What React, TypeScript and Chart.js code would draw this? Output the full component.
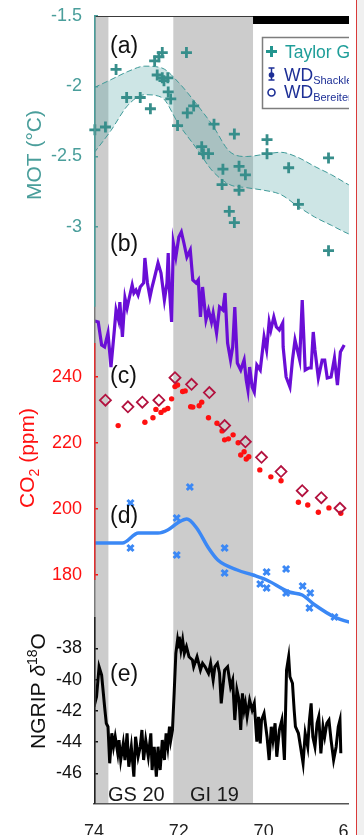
import React, { useEffect, useRef } from 'react';
import { Chart, registerables } from 'chart.js';

Chart.register(...registerables);

// ---------------- Data ----------------
const xTickValues = [74, 72, 70, 68];
const motTickValues = [-1.5, -2, -2.5, -3];
const co2TickValues = [240, 220, 200, 180];
const ngripTickValues = [-38, -40, -42, -44, -46];

// (a) MOT, Taylor Glacier (ka, °C)
const motAges = [73.98, 73.73, 73.48, 73.23, 72.91, 72.67, 72.57, 72.47, 72.39, 72.51, 72.39, 72.26, 72.35, 72.25, 72.19, 72.03, 71.82, 71.8, 71.65, 71.17, 70.69, 71.46, 71.42, 71.3, 70.96, 70.58, 70.43, 70.98, 70.58, 70.81, 70.69, 69.92, 69.92, 69.41, 68.47, 69.18, 68.47];
const motValues = [-2.31, -2.29, -1.88, -2.08, -2.08, -2.16, -1.82, -1.79, -1.76, -1.92, -1.94, -1.94, -1.96, -2.04, -2.09, -2.28, -1.76, -2.19, -2.14, -2.27, -2.34, -2.43, -2.48, -2.48, -2.59, -2.57, -2.63, -2.7, -2.74, -2.89, -2.97, -2.38, -2.48, -2.58, -2.51, -2.84, -3.17];

// (a) uncertainty band
const bandAges = [74.0, 73.6, 73.2, 72.8, 72.4, 72.0, 71.6, 71.2, 70.8, 70.4, 70.0, 69.6, 69.2, 68.8, 68.4, 68.0, 67.8];
const bandUpper = [-2.01, -1.953, -1.895, -1.857, -1.87, -1.975, -2.12, -2.28, -2.465, -2.5, -2.485, -2.47, -2.505, -2.57, -2.63, -2.7, -2.73];
const bandLower = [-2.475, -2.315, -2.135, -2.06, -2.08, -2.272, -2.435, -2.605, -2.7, -2.722, -2.74, -2.77, -2.853, -2.93, -2.99, -3.05, -3.07];

// (b) purple record (arbitrary units, axis not shown)
const bAges = [73.98, 73.9, 73.82, 73.75, 73.67, 73.6, 73.52, 73.48, 73.42, 73.39, 73.33, 73.27, 73.22, 73.18, 73.1, 73.06, 73.01, 72.96, 72.91, 72.83, 72.8, 72.74, 72.68, 72.63, 72.57, 72.49, 72.42, 72.34, 72.28, 72.25, 72.22, 72.17, 72.13, 72.07, 72.0, 71.94, 71.88, 71.81, 71.73, 71.67, 71.59, 71.54, 71.49, 71.44, 71.36, 71.3, 71.23, 71.19, 71.11, 71.04, 70.96, 70.91, 70.85, 70.78, 70.73, 70.68, 70.62, 70.54, 70.46, 70.41, 70.37, 70.33, 70.27, 70.22, 70.16, 70.08, 69.99, 69.93, 69.87, 69.83, 69.76, 69.7, 69.63, 69.55, 69.54, 69.47, 69.38, 69.32, 69.26, 69.15, 69.09, 69.02, 68.94, 68.88, 68.83, 68.79, 68.71, 68.62, 68.56, 68.5, 68.41, 68.33, 68.26, 68.19, 68.1];
const bValues = [48.3, 48.2, 45.9, 45.7, 47.1, 43.7, 47.4, 49.4, 48.4, 50.2, 46.7, 50.6, 49.6, 50.4, 51.9, 51.1, 51.4, 50.9, 51.7, 52.1, 54.6, 52.1, 50.7, 51.7, 52.7, 54.1, 53.1, 50.4, 52.1, 55.1, 51.4, 48.2, 56.1, 54.7, 56.7, 57.2, 56.1, 54.7, 55.4, 52.4, 52.1, 52.4, 48.7, 51.7, 48.4, 49.4, 48.2, 49.1, 47.1, 49.7, 49.4, 51.1, 46.1, 44.4, 45.7, 49.7, 44.1, 43.4, 44.4, 42.4, 41.4, 43.7, 41.7, 41.2, 43.9, 43.4, 46.7, 45.4, 48.2, 47.4, 48.7, 47.7, 47.4, 48.1, 45.7, 42.7, 41.7, 44.4, 46.4, 44.4, 50.4, 43.4, 43.6, 43.6, 47.2, 45.4, 42.6, 44.4, 44.4, 42.6, 42.7, 44.6, 41.9, 45.2, 45.9];

// (c) CO2 (ppm)
const co2DiamondAges = [73.73, 73.2, 72.86, 72.47, 72.09, 71.7, 71.28, 70.92, 70.43, 70.05, 69.59, 69.09, 68.64, 68.2];
const co2DiamondValues = [232.9, 230.9, 232.3, 232.9, 239.7, 237.7, 235.2, 225.2, 220.3, 215.6, 211.3, 205.5, 203.4, 200.2];
const co2DotAges = [73.43, 72.8, 72.61, 72.54, 72.42, 72.34, 72.26, 72.17, 72.09, 72.03, 71.91, 71.85, 71.72, 71.67, 71.52, 71.46, 71.3, 71.1, 70.98, 70.92, 70.83, 70.72, 70.6, 70.54, 70.46, 70.41, 70.35, 70.09, 69.83, 69.59, 69.18, 68.96, 68.71, 68.46, 68.18];
const co2DotValues = [225.2, 226.2, 227.6, 230.1, 229.2, 229.9, 230.4, 233.3, 237.0, 237.5, 235.5, 235.7, 230.9, 230.8, 231.2, 232.3, 227.6, 225.9, 223.6, 220.9, 221.2, 222.4, 220.0, 216.3, 217.3, 215.1, 215.8, 211.8, 209.7, 208.5, 202.0, 201.2, 199.0, 200.3, 198.7];

// (d) blue record (arbitrary units, axis not shown)
const dLineAges = [74.0, 73.33, 72.95, 72.49, 72.26, 72.03, 71.81, 71.58, 71.3, 71.08, 70.62, 70.25, 69.93, 69.4, 69.09, 68.79, 68.33, 67.83];
const dLineValues = [26.1, 26.1, 27.1, 27.1, 27.4, 28.1, 28.5, 27.6, 25.6, 24.4, 23.4, 22.9, 22.4, 21.2, 20.9, 19.9, 18.7, 18.0];
const dCrossAges = [73.14, 73.14, 72.05, 72.05, 71.74, 70.92, 70.92, 70.08, 69.93, 69.93, 69.47, 69.47, 69.08, 68.9, 68.92, 68.33];
const dCrossValues = [30.1, 25.6, 28.6, 24.9, 31.7, 25.6, 23.1, 22.0, 23.2, 21.6, 23.5, 21.1, 21.8, 21.1, 19.6, 18.7];

// (e) NGRIP d18O (permil)
const ngripAges = [74.0, 73.94, 73.88, 73.82, 73.75, 73.71, 73.67, 73.63, 73.58, 73.54, 73.5, 73.44, 73.41, 73.37, 73.31, 73.27, 73.22, 73.18, 73.12, 73.06, 73.02, 72.96, 72.91, 72.87, 72.83, 72.78, 72.72, 72.66, 72.63, 72.58, 72.53, 72.49, 72.44, 72.39, 72.34, 72.3, 72.26, 72.22, 72.19, 72.15, 72.11, 72.07, 72.03, 72.0, 71.99, 71.95, 71.91, 71.87, 71.82, 71.76, 71.68, 71.65, 71.57, 71.49, 71.44, 71.38, 71.3, 71.25, 71.19, 71.15, 71.09, 71.04, 71.0, 70.92, 70.85, 70.78, 70.73, 70.68, 70.63, 70.58, 70.54, 70.5, 70.46, 70.43, 70.39, 70.33, 70.27, 70.22, 70.16, 70.12, 70.08, 70.05, 69.99, 69.95, 69.92, 69.87, 69.82, 69.78, 69.73, 69.69, 69.63, 69.57, 69.51, 69.46, 69.41, 69.38, 69.32, 69.28, 69.25, 69.18, 69.13, 69.07, 69.02, 68.96, 68.92, 68.88, 68.84, 68.79, 68.74, 68.7, 68.65, 68.6, 68.56, 68.51, 68.46, 68.41, 68.35, 68.29, 68.24, 68.2, 68.18];
const ngripValues = [-41.74, -41.1, -39.18, -39.71, -41.74, -42.8, -43.02, -45.36, -43.44, -44.3, -43.66, -44.72, -43.87, -45.15, -44.08, -45.15, -43.44, -45.58, -44.3, -46.22, -43.66, -44.94, -44.3, -43.23, -45.15, -43.87, -44.94, -43.44, -45.79, -44.3, -46.22, -44.3, -45.79, -43.87, -45.15, -43.44, -44.3, -43.02, -43.87, -43.23, -40.88, -38.32, -37.47, -38.0, -37.26, -38.11, -37.47, -38.32, -37.9, -38.54, -38.75, -39.18, -38.54, -39.39, -38.96, -39.18, -39.6, -38.96, -40.03, -39.18, -38.96, -39.6, -41.52, -39.39, -39.18, -40.46, -40.03, -42.59, -40.67, -41.31, -43.23, -40.88, -41.95, -41.52, -42.38, -41.31, -41.95, -41.52, -43.98, -42.38, -44.08, -42.59, -42.16, -43.02, -43.66, -45.15, -43.02, -43.87, -42.8, -44.94, -43.23, -42.59, -45.15, -39.39, -38.54, -39.82, -40.24, -41.95, -43.02, -43.44, -44.3, -45.36, -43.44, -44.3, -42.59, -41.52, -43.66, -44.3, -42.8, -42.38, -44.72, -43.02, -43.66, -42.8, -42.59, -43.87, -45.15, -44.3, -43.02, -42.59, -44.72];

// stadial / interstadial shading (ka) and top bar interval
const shadedIntervals = [[74.0, 73.66], [72.13, 70.25]];
const topBarInterval = [70.25, 67.83];

// ---------------- Styling ----------------
const FONT = "'Liberation Sans', Arial, Helvetica, sans-serif";
const TEAL_TXT = '#4a9e9b';
const TEAL_MK = '#378e8b';
const RED = '#ff1010';
const PURPLE = '#6a0ed6';
const BLUE = '#3b88f5';
const NAVY = '#1d2f96';

const zip = (xs: number[], ys: number[]) => {
  const n = Math.min(xs.length, ys.length);
  const out: { x: number; y: number }[] = [];
  for (let i = 0; i < n; i++) out.push({ x: xs[i], y: ys[i] });
  return out;
};

type Part = { t: string; size: number; dy?: number; italic?: boolean };

function partsWidth(ctx: CanvasRenderingContext2D, parts: Part[]) {
  let w = 0;
  for (const p of parts) {
    ctx.font = `${p.italic ? 'italic ' : ''}${p.size}px ${FONT}`;
    w += ctx.measureText(p.t).width;
  }
  return w;
}

function drawParts(ctx: CanvasRenderingContext2D, parts: Part[], x: number, y: number, color: string) {
  let cx = x;
  ctx.fillStyle = color;
  ctx.textAlign = 'left';
  ctx.textBaseline = 'alphabetic';
  for (const p of parts) {
    ctx.font = `${p.italic ? 'italic ' : ''}${p.size}px ${FONT}`;
    ctx.fillText(p.t, cx, y + (p.dy || 0));
    cx += ctx.measureText(p.t).width;
  }
}

function drawRotated(ctx: CanvasRenderingContext2D, parts: Part[], cx: number, cy: number, color: string) {
  const w = partsWidth(ctx, parts);
  ctx.save();
  ctx.translate(cx, cy);
  ctx.rotate(-Math.PI / 2);
  drawParts(ctx, parts, -w / 2, parts[0].size * 0.36, color);
  ctx.restore();
}

const decorPlugin = {
  id: 'decor',
  beforeDraw(chart: any) {
    const { ctx, chartArea: a, scales } = chart;
    const xs = scales.x;
    ctx.save();
    ctx.fillStyle = '#cccccc';
    for (const [s, e] of shadedIntervals) {
      const x1 = xs.getPixelForValue(s);
      const x2 = xs.getPixelForValue(e);
      ctx.fillRect(Math.min(x1, x2), a.top, Math.abs(x2 - x1), a.bottom - a.top);
    }
    ctx.restore();
  },
  afterDraw(chart: any) {
    const { ctx, chartArea: a, scales } = chart;
    const xs = scales.x;
    const yA = scales.yA;
    const yC = scales.yC;
    const yE = scales.yE;
    ctx.save();

    // top frame line
    ctx.strokeStyle = '#3a3a3a';
    ctx.lineWidth = 1.2;
    ctx.beginPath();
    ctx.moveTo(a.left, a.top + 0.5);
    ctx.lineTo(a.right, a.top + 0.5);
    ctx.stroke();

    // black bar at the top
    const b1 = xs.getPixelForValue(topBarInterval[0]);
    const b2 = xs.getPixelForValue(topBarInterval[1]);
    ctx.fillStyle = '#000';
    ctx.fillRect(Math.min(b1, b2), a.top, Math.abs(b2 - b1), 8);

    // left axis line, coloured by panel
    const lx = a.left + 0.75;
    const seg = (y1: number, y2: number, c: string) => {
      ctx.strokeStyle = c;
      ctx.lineWidth = 1.5;
      ctx.beginPath();
      ctx.moveTo(lx, y1);
      ctx.lineTo(lx, y2);
      ctx.stroke();
    };
    seg(a.top, a.bottom, '#7a7a7a');
    seg(yA.getPixelForValue(-1.5), yA.getPixelForValue(-3.57), TEAL_TXT);
    seg(yC.getPixelForValue(250.2), yC.getPixelForValue(178.5), '#e03030');
    seg(yE.getPixelForValue(-36), a.bottom, '#222');

    // panel labels
    ctx.fillStyle = '#111';
    ctx.font = `23px ${FONT}`;
    ctx.textAlign = 'left';
    ctx.textBaseline = 'middle';
    const lblX = a.left + 16;
    ctx.fillText('(a)', lblX, 47);
    ctx.fillText('(b)', lblX, 245);
    ctx.fillText('(c)', lblX, 377);
    ctx.fillText('(d)', lblX, 517);
    ctx.fillText('(e)', lblX, 675);

    ctx.font = `20px ${FONT}`;
    ctx.fillStyle = '#1a1a1a';
    ctx.fillText('GS 20', 108, 795);
    ctx.fillText('GI 19', 190, 795);

    // axis titles
    drawRotated(ctx, [{ t: 'MOT (°C)', size: 21 }], 33, 155, TEAL_TXT);
    drawRotated(ctx, [{ t: 'CO', size: 21 }, { t: '2', size: 14, dy: 5 }, { t: ' (ppm)', size: 21 }], 26, 458, RED);
    drawRotated(ctx, [{ t: 'NGRIP ', size: 21 }, { t: 'δ', size: 21, italic: true }, { t: '18', size: 14, dy: -8 }, { t: 'O', size: 21 }], 37, 691, '#111');

    // legend
    ctx.fillStyle = '#fff';
    ctx.fillRect(262.5, 37.5, 120, 71);
    ctx.strokeStyle = '#7d7d7d';
    ctx.lineWidth = 1.5;
    ctx.strokeRect(262.5, 37.5, 120, 71);
    // row 1: cross
    ctx.strokeStyle = '#23958f';
    ctx.lineWidth = 3;
    ctx.beginPath();
    ctx.moveTo(266, 51.5); ctx.lineTo(277, 51.5);
    ctx.moveTo(271.5, 46); ctx.lineTo(271.5, 57);
    ctx.stroke();
    drawParts(ctx, [{ t: 'Taylor Glacier', size: 17.5 }], 285, 57.5, '#1f9e99');
    // row 2: error bar
    ctx.strokeStyle = NAVY;
    ctx.fillStyle = NAVY;
    ctx.lineWidth = 1.5;
    ctx.beginPath();
    ctx.moveTo(271.5, 68); ctx.lineTo(271.5, 80);
    ctx.moveTo(268.5, 68); ctx.lineTo(274.5, 68);
    ctx.moveTo(268.5, 80); ctx.lineTo(274.5, 80);
    ctx.stroke();
    ctx.beginPath();
    ctx.arc(271.5, 75, 2.8, 0, Math.PI * 2);
    ctx.fill();
    drawParts(ctx, [{ t: 'WD', size: 17.5 }, { t: 'Shackleton', size: 11, dy: 3.5 }], 284, 80.5, NAVY);
    // row 3: open circle
    ctx.beginPath();
    ctx.arc(271.5, 92.5, 3.5, 0, Math.PI * 2);
    ctx.lineWidth = 1.6;
    ctx.stroke();
    drawParts(ctx, [{ t: 'WD', size: 17.5 }, { t: 'Bereiter', size: 11, dy: 3.5 }], 284, 97.5, NAVY);

    ctx.restore();
  },
};

function yAxis(min: number, max: number, tickVals: number[], color: string, weight: number, width: number) {
  return {
    type: 'linear',
    position: 'left',
    weight,
    min,
    max,
    afterBuildTicks: (s: any) => {
      s.ticks = tickVals.map((v) => ({ value: v }));
    },
    afterFit: (s: any) => {
      s.width = width;
      s.paddingTop = 0;
      s.paddingBottom = 0;
      // let labels of zero-width axes draw outside their own (empty) box
      s._computeLabelArea = () => undefined;
    },
    border: { display: false },
    grid: { display: true, drawOnChartArea: false, drawTicks: true, tickLength: -4, color, lineWidth: 1.5 },
    ticks: { color, font: { family: FONT, size: 18 }, padding: 16, autoSkip: false, callback: (v: any) => String(v) },
  };
}

export default function App() {
  const ref = useRef<HTMLCanvasElement>(null);

  useEffect(() => {
    if (!ref.current) return;
    const chart = new Chart(ref.current, {
      type: 'line',
      data: {
        datasets: [
          { label: 'Taylor Glacier', data: zip(motAges, motValues), yAxisID: 'yA', showLine: false, pointStyle: 'cross', pointRadius: 5.5, borderColor: TEAL_MK, backgroundColor: TEAL_MK, pointBorderWidth: 2.8, clip: false } as any,
          { label: 'CO2 diamonds', data: zip(co2DiamondAges, co2DiamondValues), yAxisID: 'yC', showLine: false, pointStyle: 'rectRot', pointRadius: 5.5, borderColor: '#b3123f', backgroundColor: 'rgba(0,0,0,0)', pointBorderWidth: 1.8 } as any,
          { label: 'CO2 dots', data: zip(co2DotAges, co2DotValues), yAxisID: 'yC', showLine: false, pointStyle: 'circle', pointRadius: 2.7, borderColor: RED, backgroundColor: RED, pointBorderWidth: 0 } as any,
          { label: 'd crosses', data: zip(dCrossAges, dCrossValues), yAxisID: 'yAux', showLine: false, pointStyle: 'crossRot', pointRadius: 4.3, borderColor: BLUE, backgroundColor: BLUE, pointBorderWidth: 3 } as any,
          { label: 'd line', data: zip(dLineAges, dLineValues), yAxisID: 'yAux', borderColor: BLUE, borderWidth: 3.5, pointRadius: 0, tension: 0.4, cubicInterpolationMode: 'monotone', fill: false } as any,
          { label: 'b', data: zip(bAges, bValues), yAxisID: 'yAux', borderColor: PURPLE, borderWidth: 3.2, pointRadius: 0, tension: 0, fill: false } as any,
          { label: 'NGRIP', data: zip(ngripAges, ngripValues), yAxisID: 'yE', borderColor: '#000', borderWidth: 3, pointRadius: 0, tension: 0, fill: false } as any,
          { label: 'band upper', data: zip(bandAges, bandUpper), yAxisID: 'yA', borderColor: '#3f9a98', borderWidth: 1, borderDash: [6, 3], pointRadius: 0, tension: 0.4, cubicInterpolationMode: 'monotone', fill: false } as any,
          { label: 'band lower', data: zip(bandAges, bandLower), yAxisID: 'yA', borderColor: '#3f9a98', borderWidth: 1, borderDash: [6, 3], pointRadius: 0, tension: 0.4, cubicInterpolationMode: 'monotone', fill: '-1', backgroundColor: 'rgba(90,170,170,0.3)' } as any,
        ],
      },
      options: {
        responsive: false,
        animation: false,
        devicePixelRatio: 1,
        events: [],
        layout: { padding: { top: 16, left: 0, right: 0, bottom: 0 } },
        plugins: { legend: { display: false }, tooltip: { enabled: false } },
        scales: {
          x: {
            type: 'linear',
            reverse: true,
            min: 67.829,
            max: 74,
            position: 'bottom',
            afterBuildTicks: (s: any) => {
              s.ticks = xTickValues.map((v) => ({ value: v }));
            },
            afterFit: (s: any) => {
              s.height = 31;
              s.paddingLeft = 0;
              s.paddingRight = 0;
            },
            grid: { display: false },
            border: { display: true, color: '#555', width: 1.5 },
            ticks: { color: '#222', font: { family: FONT, size: 18 }, padding: 9, autoSkip: false, maxRotation: 0, callback: (v: any) => String(v) },
          },
          yA: yAxis(-7.108, -1.5, motTickValues, TEAL_TXT, 2, 94),
          yC: yAxis(110.71, 349.14, co2TickValues, RED, 0, 0),
          yE: yAxis(-47.965, 2.47, ngripTickValues, '#111', 0, 0),
          yAux: { type: 'linear', display: false, min: 0, max: 78.8 },
        } as any,
      },
      plugins: [decorPlugin],
    } as any);
    return () => chart.destroy();
  }, []);

  return (
    <div style={{ position: 'absolute', left: 0, top: 0, width: 364, height: 835, background: '#fff', overflow: 'hidden' }}>
      <canvas ref={ref} width={364} height={835} style={{ position: 'absolute', left: 0, top: 0, width: 364, height: 835 }} />
      <div style={{ position: 'absolute', left: 349, top: 0, width: 7, height: 835, background: '#fff' }} />
      <div style={{ position: 'absolute', left: 356, top: 0, width: 1, height: 835, background: '#d93a3a' }} />
      <div style={{ position: 'absolute', left: 357, top: 0, width: 7, height: 835, background: '#f0f0f0' }} />
    </div>
  );
}
